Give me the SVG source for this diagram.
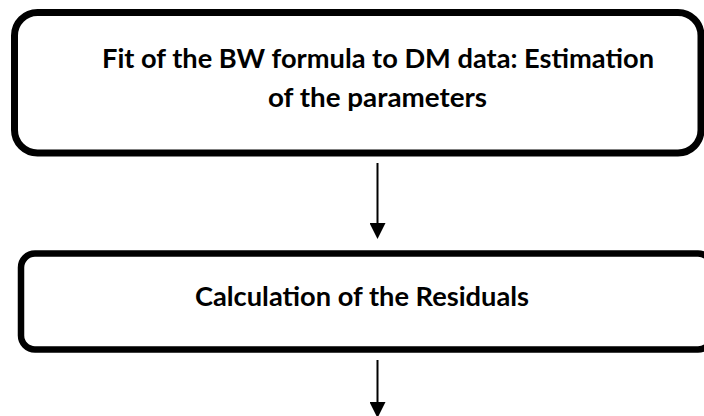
<svg xmlns="http://www.w3.org/2000/svg" width="704" height="416" viewBox="0 0 704 416">
  <style>
    .box { fill: #ffffff; stroke: #000000; }
    .label { font-family: Lato, "Open Sans", "Liberation Sans", sans-serif; font-weight: bold; font-size: 26px; fill: #000000; text-anchor: middle; }
    .edge { stroke: #000000; stroke-width: 2; fill: none; marker-end: url(#arrow); }
  </style>
  <defs>
    <marker id="arrow" viewBox="0 0 16 16" markerWidth="16" markerHeight="16" markerUnits="userSpaceOnUse" refX="7" refY="8" orient="auto">
      <path d="M0,0 L16,8 L0,16 Z" fill="#000000"/>
    </marker>
  </defs>
  <rect width="704" height="416" fill="#ffffff"/>
  <g id="node-fit">
    <rect class="box" x="14.5" y="12.5" width="686.5" height="140.5" rx="23" ry="23" stroke-width="7"/>
    <text class="label" x="378" y="68" textLength="552" lengthAdjust="spacingAndGlyphs">Fit of the BW formula to DM data: Estimation</text>
    <text class="label" x="377.5" y="107" textLength="219" lengthAdjust="spacingAndGlyphs">of the parameters</text>
  </g>
  <g id="node-residuals">
    <rect class="box" x="21" y="253.5" width="691" height="96" rx="14" ry="14" stroke-width="6.5"/>
    <text class="label" x="362" y="306" textLength="334" lengthAdjust="spacingAndGlyphs">Calculation of the Residuals</text>
  </g>
  <g id="connectors">
    <line class="edge" x1="377.5" y1="163" x2="377.5" y2="230"/>
    <line class="edge" x1="377.5" y1="360" x2="377.5" y2="409"/>
  </g>
</svg>
